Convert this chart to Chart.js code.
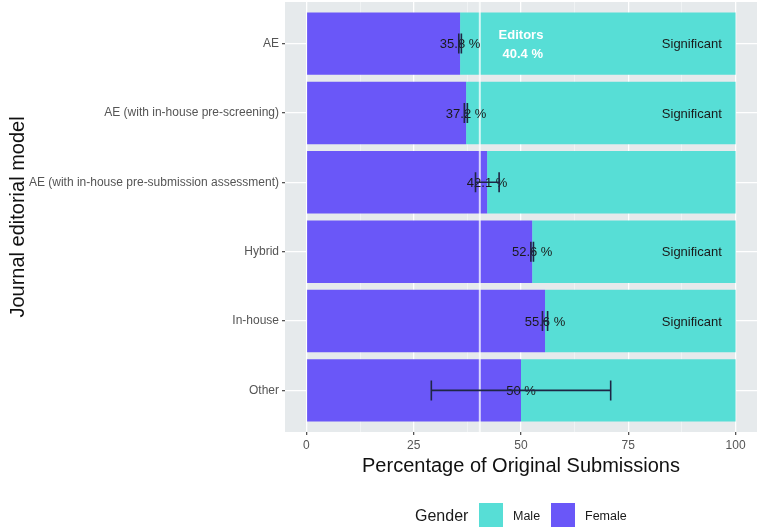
<!DOCTYPE html>
<html>
<head>
<meta charset="utf-8">
<script src="https://cdn.jsdelivr.net/npm/chart.js@4/dist/chart.umd.min.js"></script>
<style>
html,body{margin:0;padding:0;background:#fff;}
#wrap{position:relative;width:760px;height:530px;}
</style>
</head>
<body>
<div id="wrap"><canvas id="c" width="760" height="530"></canvas></div>
<script>
const categories = ["AE", "AE (with in-house pre-screening)", "AE (with in-house pre-submission assessment)", "Hybrid", "In-house", "Other"];
const femalePct = [35.8, 37.2, 42.1, 52.6, 55.6, 50];
const malePct = femalePct.map(v => +(100 - v).toFixed(1));
const ciLow = [35.5, 36.8, 39.4, 52.3, 55.0, 29.1];
const ciHigh = [36.1, 37.5, 44.9, 52.9, 56.2, 70.9];
const pctLabels = ["35.8 %", "37.2 %", "42.1 %", "52.6 %", "55.6 %", "50 %"];
const significance = ["Significant", "Significant", "", "Significant", "Significant", ""];
const editorsPct = 40.4;
const xTicks = [0, 25, 50, 75, 100];
const xMinorTicks = [12.5, 37.5, 62.5, 87.5];

const FEMALE = '#6A57F8';
const MALE = '#57DED6';
const PANEL = '#E6EAEC';
const FONT = '"Liberation Sans", Arial, sans-serif';

const femaleData = categories.map((c, i) => ({x: femalePct[i], y: i}));
const maleData = categories.map((c, i) => ({x: malePct[i], y: i}));

const overlay = {
  id: 'overlay',
  beforeDraw(chart) {
    const {ctx, chartArea: a} = chart;
    ctx.save();
    ctx.fillStyle = PANEL;
    ctx.fillRect(a.left, a.top, a.right - a.left, a.bottom - a.top);
    ctx.restore();
  },
  afterDatasetsDraw(chart) {
    const {ctx, scales: {x, y}, chartArea: a} = chart;
    ctx.save();
    const ex = x.getPixelForValue(editorsPct);
    ctx.strokeStyle = 'rgba(255,255,255,0.75)';
    ctx.lineWidth = 2;
    ctx.beginPath(); ctx.moveTo(ex, a.top); ctx.lineTo(ex, a.bottom); ctx.stroke();
    ctx.fillStyle = '#ffffff';
    ctx.font = 'bold 13px ' + FONT;
    ctx.textAlign = 'center'; ctx.textBaseline = 'middle';
    const y0 = y.getPixelForValue(0);
    ctx.fillText('Editors', x.getPixelForValue(50.0), y0 - 8);
    ctx.fillText(editorsPct + ' %', x.getPixelForValue(50.4), y0 + 11);
    ctx.fillStyle = '#1a1a1a';
    ctx.font = '13px ' + FONT;
    categories.forEach((c, i) => {
      const yy = y.getPixelForValue(i);
      ctx.textAlign = 'center';
      ctx.fillText(pctLabels[i], x.getPixelForValue(femalePct[i]), yy + 1);
      if (significance[i]) {
        ctx.textAlign = 'right';
        ctx.fillText(significance[i], x.getPixelForValue(96.8), yy + 1);
      }
    });
    ctx.strokeStyle = '#1E2645';
    ctx.lineWidth = 1.6;
    categories.forEach((c, i) => {
      const yy = y.getPixelForValue(i);
      const x1 = x.getPixelForValue(ciLow[i]);
      const x2 = x.getPixelForValue(ciHigh[i]);
      ctx.beginPath();
      ctx.moveTo(x1, yy); ctx.lineTo(x2, yy);
      ctx.moveTo(x1, yy - 10); ctx.lineTo(x1, yy + 10);
      ctx.moveTo(x2, yy - 10); ctx.lineTo(x2, yy + 10);
      ctx.stroke();
    });
    ctx.restore();
  },
  afterDraw(chart) {
    const {ctx} = chart;
    ctx.save();
    ctx.textBaseline = 'middle';
    ctx.textAlign = 'left';
    ctx.fillStyle = '#1a1a1a';
    ctx.font = '16px ' + FONT;
    ctx.fillText('Gender', 415, 517);
    ctx.fillStyle = MALE; ctx.fillRect(479, 503, 24, 24);
    ctx.fillStyle = FEMALE; ctx.fillRect(551, 503, 24, 24);
    ctx.fillStyle = '#1a1a1a';
    ctx.font = '12.5px ' + FONT;
    ctx.fillText('Male', 513, 517);
    ctx.fillText('Female', 585, 517);
    ctx.restore();
  }
};

new Chart(document.getElementById('c'), {
  type: 'bar',
  data: {
    datasets: [
      {label: 'Female', data: femaleData, backgroundColor: FEMALE, borderWidth: 0, barPercentage: 0.9, categoryPercentage: 1},
      {label: 'Male', data: maleData, backgroundColor: MALE, borderWidth: 0, barPercentage: 0.9, categoryPercentage: 1}
    ]
  },
  options: {
    indexAxis: 'y',
    responsive: false,
    animation: false,
    layout: {padding: {top: 2, right: 3, bottom: 52, left: 0}},
    plugins: {legend: {display: false}, tooltip: {enabled: false}},
    scales: {
      x: {
        type: 'linear',
        stacked: true,
        min: -5, max: 105,
        afterBuildTicks(scale) {
          scale.ticks = xTicks.concat(xMinorTicks).sort((a, b) => a - b).map(v => ({value: v}));
        },
        afterFit(scale) { scale.height = 46; scale.paddingLeft = 0; scale.paddingRight = 0; },
        border: {display: false},
        grid: {
          color: ctx => (ctx.tick && xMinorTicks.includes(ctx.tick.value)) ? 'rgba(255,255,255,0.6)' : '#ffffff',
          lineWidth: ctx => (ctx.tick && xMinorTicks.includes(ctx.tick.value)) ? 0.7 : 1.3,
          tickColor: ctx => (ctx.tick && xMinorTicks.includes(ctx.tick.value)) ? 'rgba(0,0,0,0)' : '#555',
          tickLength: 3,
          drawOnChartArea: true
        },
        ticks: {
          autoSkip: false, maxRotation: 0, padding: 3,
          color: '#555', font: {family: FONT, size: 12},
          callback: v => xTicks.includes(v) ? String(v) : ''
        },
        title: {display: true, text: 'Percentage of Original Submissions', color: '#111', font: {family: FONT, size: 20}, padding: {top: 0, bottom: 0}}
      },
      y: {
        type: 'linear',
        stacked: true,
        reverse: true,
        offset: false,
        min: -0.6, max: 5.6,
        afterBuildTicks(scale) {
          scale.ticks = categories.map((c, i) => ({value: i}));
        },
        afterFit(scale) { scale.width = 285; scale.paddingTop = 0; scale.paddingBottom = 0; },
        border: {display: false},
        grid: {offset: false, color: '#ffffff', lineWidth: 1.3, tickColor: '#555', tickLength: 3},
        ticks: {autoSkip: false, color: '#555', font: {family: FONT, size: 12}, padding: 3,
          callback: v => categories[v] !== undefined ? categories[v] : ''},
        title: {display: true, text: 'Journal editorial model', color: '#111', font: {family: FONT, size: 20}, padding: {top: 6, bottom: 0}}
      }
    }
  },
  plugins: [overlay]
});
</script>
</body>
</html>
